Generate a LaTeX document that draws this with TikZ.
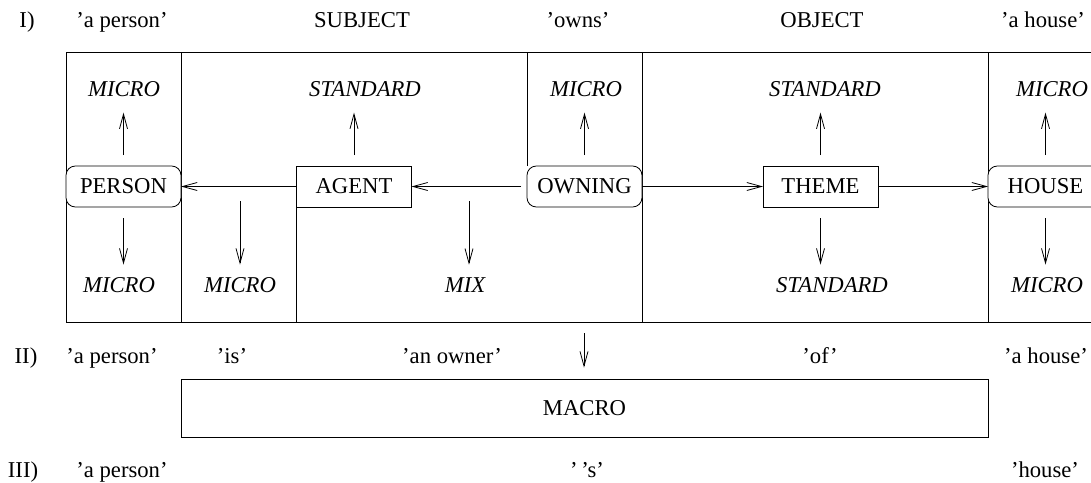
\documentclass[tikz,border=0pt]{standalone}
\usepackage{fontspec}
\setmainfont{Liberation Serif}
\usetikzlibrary{arrows.meta}

\begin{document}
\begin{tikzpicture}[x=0.75pt, y=-0.75pt, line width=0.6pt,
  font=\fontsize{17}{20}\selectfont,
  box/.style={draw, fill=white, minimum width=86.25pt, minimum height=30.75pt, inner sep=0pt, outer sep=0pt},
  rbox/.style={box, rounded corners=7pt},
  lab/.style={anchor=base, inner sep=0pt},
  ilab/.style={lab, font=\fontsize{17}{20}\selectfont\itshape},
  arr/.style={-{Straight Barb[length=11pt, width=6pt]}},
  up/.style={arr, shorten <=8.25pt, shorten >=11.6pt},
  down/.style={arr, shorten <=8.25pt, shorten >=9.4pt}]
\useasboundingbox (0,0) rectangle (1091,482);
\clip (0,0) rectangle (1091,482);
% Frame and columns
\draw (66,52) rectangle (1110,322);
\draw (181,52) -- (181,322);
\draw (642,52) -- (642,322);
\draw (988,52) -- (988,322);
% Concepts and roles
\node[rbox] (person) at (123.5,186.5) {PERSON};
\node[box] (agent) at (354,186.5) {AGENT};
\node[rbox] (owning) at (584.5,186.5) {OWNING};
\node[box] (theme) at (820.5,186.5) {THEME};
\node[rbox] (house) at (1045.5,186.5) {HOUSE};
\draw (agent.south west) -- (296.5,322);
\draw (owning.north west) -- (527,52);
% Row I
\node[lab] (rowi) at (27,27.5) {I)};
\node[lab] (perI) at (122,27.5) {'a person'};
\node[lab] (subj) at (362,27.5) {SUBJECT};
\node[lab] (owns) at (578,27.5) {'owns'};
\node[lab] (obj) at (822,27.5) {OBJECT};
\node[lab] (houI) at (1043,27.5) {'a house'};
% Upper levels
\node[ilab] (mtA) at (124,96.5) {MICRO};
\node[ilab] (stA) at (365,96.5) {STANDARD};
\node[ilab] (mtB) at (586,96.5) {MICRO};
\node[ilab] (stB) at (825,96.5) {STANDARD};
\node[ilab] (mtC) at (1052,96.5) {MICRO};
% Lower levels
\node[ilab] (mbA) at (119,292.5) {MICRO};
\node[ilab] (mbB) at (240,292.5) {MICRO};
\node[ilab] (mix) at (465,292.5) {MIX};
\node[ilab] (sbA) at (832,292.5) {STANDARD};
\node[ilab] (mbC) at (1047,292.5) {MICRO};
% Relations
\draw[arr] (agent) -- (person);
\draw[arr, shorten <=4.5pt] (owning) -- (agent);
\draw[arr] (owning) -- (theme);
\draw[arr] (theme) -- (house);
\draw[up] (person.north) -- (person.north |- mtA.south);
\draw[up] (agent.north) -- (agent.north |- stA.south);
\draw[up] (owning.north) -- (owning.north |- mtB.south);
\draw[up] (theme.north) -- (theme.north |- stB.south);
\draw[up] (house.north) -- (house.north |- mtC.south);
\draw[down] (person.south) -- (person.south |- mbA.north);
\draw[down] (theme.south) -- (theme.south |- sbA.north);
\draw[down] (house.south) -- (house.south |- mbC.north);
\coordinate (dA) at (240,201);
\coordinate (dB) at (469,201);
\draw[arr, shorten >=9.4pt] (dA) -- (dA |- mbB.north);
\draw[arr, shorten >=9.4pt] (dB) -- (dB |- mix.north);
% Row II
\node[lab] (rowii) at (26,363) {II)};
\node[lab] (perII) at (112,363) {'a person'};
\node[lab] (is) at (232,363) {'is'};
\node[lab] (owner) at (452,363) {'an owner'};
\node[lab] (of) at (820,363) {'of'};
\node[lab] (houII) at (1046,363) {'a house'};
% Macro level
\node[draw, minimum width=605.25pt, minimum height=43.5pt, inner sep=0pt] (macro) at (584.5,408) {MACRO};
\coordinate (dC) at (584,333);
\draw[arr, shorten >=8.25pt] (dC) -- (dC |- macro.north);
% Row III
\node[lab] (rowiii) at (23,477) {III)};
\node[lab] (perIII) at (122,477) {'a person'};
\node[lab] (gen) at (587,477) {’\,’s’};
\node[lab] (houIII) at (1045,477) {'house'};
\end{tikzpicture}
\end{document}
